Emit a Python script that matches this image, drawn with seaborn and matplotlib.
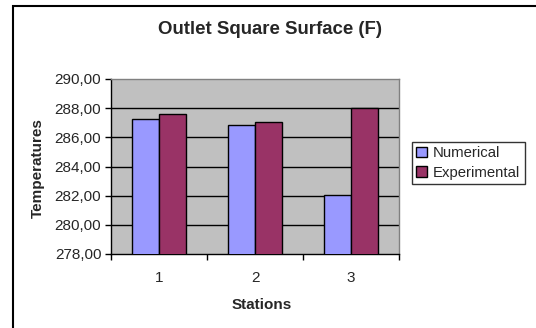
import matplotlib
matplotlib.use("Agg")
import matplotlib.pyplot as plt
import matplotlib.ticker as mticker
from matplotlib.patches import Rectangle
import pandas as pd
import seaborn as sns

# Temperatures measured at each station on the outlet square surface
stations = ["1", "2", "3"]
numerical = [287.25, 286.84, 282.02]
experimental = [287.57, 287.06, 287.98]
series_names = ["Numerical", "Experimental"]
series_colors = ["#9999FF", "#993366"]
y_ticks = [278, 280, 282, 284, 286, 288, 290]

df = pd.DataFrame({
    "Station": stations * 2,
    "Temperature": numerical + experimental,
    "Series": [series_names[0]] * len(stations) + [series_names[1]] * len(stations),
})

sns.set_style("white")
plt.rcParams["font.family"] = ["Liberation Sans", "DejaVu Sans"]

fig = plt.figure(figsize=(5.36, 3.28), dpi=100)
fig.patch.set_facecolor("white")
ax = fig.add_axes([111 / 536, 1 - 254 / 328, 288 / 536, 175 / 328])
ax.set_facecolor("#C0C0C0")

sns.barplot(data=df, x="Station", y="Temperature", hue="Series",
            palette=series_colors, width=0.57, edgecolor="black",
            linewidth=1, saturation=1, ax=ax, zorder=3)

ax.set_ylim(y_ticks[0], y_ticks[-1])
ax.set_xlim(-0.5, len(stations) - 0.5)
ax.set_yticks(y_ticks)
ax.yaxis.set_major_formatter(mticker.FuncFormatter(lambda v, p: f"{v:.2f}".replace(".", ",")))
for yv in y_ticks[1:-1]:
    ax.axhline(yv, color="black", linewidth=1, zorder=1)

# tick marks sit between the stations, labels in the middle
ax.set_xticks([i - 0.5 for i in range(len(stations) + 1)], minor=True)
ax.tick_params(axis="x", which="major", length=0, labelsize=11, pad=12)
ax.tick_params(axis="x", which="minor", length=4, width=1, color="black", direction="out", bottom=True)
ax.tick_params(axis="y", which="major", length=4, width=1, color="black", direction="out", left=True,
               labelsize=11, pad=3)

for side in ("left", "bottom"):
    ax.spines[side].set_color("black")
    ax.spines[side].set_linewidth(1)
for side in ("top", "right"):
    ax.spines[side].set_color("#808080")
    ax.spines[side].set_linewidth(1)

ax.set_xlabel("")
ax.set_ylabel("")
fig.text(262 / 536, 1 - 305 / 328, "Stations", ha="center", va="center",
         fontsize=11, fontweight="bold")
fig.text(38 / 536, 1 - 168 / 328, "Temperatures", ha="center", va="center",
         rotation=90, fontsize=11, fontweight="bold")
fig.text(270 / 536, 1 - 30 / 328, "Outlet Square Surface (F)", ha="center", va="center",
         fontsize=13.4, fontweight="bold")

handles, labels = ax.get_legend_handles_labels()
if ax.get_legend() is not None:
    ax.get_legend().remove()
leg = ax.legend(handles, labels, loc="upper left",
                bbox_to_anchor=(412 / 536, 1 - 142 / 328), bbox_transform=fig.transFigure,
                borderaxespad=0, frameon=True, fancybox=False, fontsize=10.7,
                handlelength=0.7, handleheight=0.7, handletextpad=0.4,
                borderpad=0.3, labelspacing=0.35)
leg.get_frame().set_edgecolor("black")
leg.get_frame().set_linewidth(1)

# chart border
fig.patches.append(Rectangle((13 / 536, -0.1), 1.2, 1 - 6 / 328 + 0.1, transform=fig.transFigure,
                             fill=False, edgecolor="black", linewidth=1.5, figure=fig))

fig.savefig("out.png", dpi=100)
